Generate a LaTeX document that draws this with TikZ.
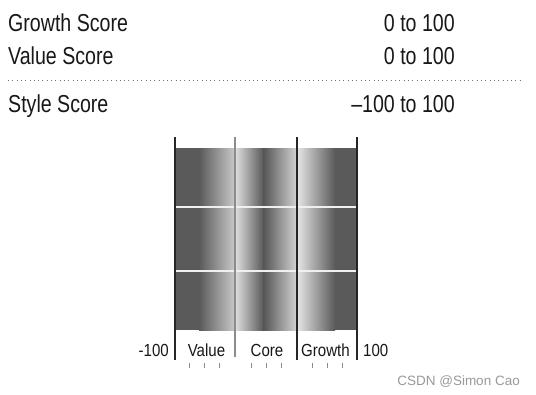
\documentclass[tikz,border=0pt]{standalone}
\usepackage{fontspec}
\setmainfont{Liberation Sans}[FakeStretch=0.80]
\newfontfamily\lblfont{Liberation Sans}[FakeStretch=0.86]
\newfontfamily\wmfont{Liberation Sans}
\definecolor{txt}{HTML}{1A1718}
\definecolor{dk}{HTML}{5A5A5A}
\definecolor{dk2}{HTML}{565656}
\definecolor{lt1}{HTML}{C8C8C8}
\definecolor{lt2}{HTML}{E0E0E0}
\definecolor{lt3}{HTML}{D4D4D4}
\definecolor{lt4}{HTML}{E6E6E6}
\definecolor{wm}{HTML}{9A9A9A}
\tikzset{
  head/.style={inner sep=0pt, text=txt, font=\fontsize{24.5}{24.5}\selectfont},
  lbl/.style={inner sep=0pt, text=txt, font=\lblfont\fontsize{17.5}{17.5}\selectfont},
  divline/.style={line width=1.2pt, draw=black!85},
  tick/.style={line width=0.9pt, draw=black!45},
  gridline/.style={line width=1.2pt, draw=white!94!black},
}
\begin{document}
\begin{tikzpicture}[x=1pt,y=-1pt]
\useasboundingbox[fill=white] (0,0) rectangle (536,394);
% header texts
\node[head, anchor=base west] (gs) at (8,31) {Growth Score};
\node[head, anchor=base east] (gsr) at (455,31) {0 to 100};
\node[head, anchor=base west] (vs) at (8,64) {Value Score};
\node[head, anchor=base east] (vsr) at (455,64) {0 to 100};
\coordinate (dl) at (8,80);
\coordinate (dr) at (522,80);
\draw[black!55, line width=1pt, dash pattern=on 1pt off 3.3pt] (dl) -- (dr);
\node[head, anchor=base west] (ss) at (8,112) {Style Score};
\node[head, anchor=base east] (ssr) at (455,112) {\textendash100 to 100};
% band
\fill[dk] (175,148) rectangle (357,330);
\shade[left color=dk, right color=lt1] (199,148) rectangle (234.5,330);
\shade[left color=lt2, right color=dk2] (235,148) rectangle (264,330);
\shade[left color=dk2, right color=lt3] (263.5,148) rectangle (297,330);
\shade[left color=lt4, right color=dk] (297,148) rectangle (335,330);
% white grid lines
\draw[gridline] (175,207) -- (357,207);
\draw[gridline] (175,271) -- (357,271);
% vertical dividers
\draw[divline] (175,137) -- (175,360);
\draw[line width=1.2pt, draw=black!45] (235,137) -- (235,357);
\draw[divline] (297,137) -- (297,360);
\draw[divline] (357,137) -- (357,360);
% bottom labels
\node[lbl, anchor=base east] (m100) at (169,356) {-100};
\node[lbl, anchor=base] (val) at (206.5,356) {Value};
\node[lbl, anchor=base] (core) at (267,356) {Core};
\node[lbl, anchor=base] (gro) at (325.5,356) {Growth};
\node[lbl, anchor=base west] (p100) at (363,356) {100};
% ticks
\foreach \x in {189,204,219,251,266,281,312,327,342}{
  \draw[tick] (\x,363) -- (\x,368);
}
% watermark
\node[inner sep=0pt, anchor=base east, text=wm, font=\wmfont\fontsize{13.5}{13.5}\selectfont] (wmk) at (520,385) {CSDN @Simon Cao};
\end{tikzpicture}
\end{document}
